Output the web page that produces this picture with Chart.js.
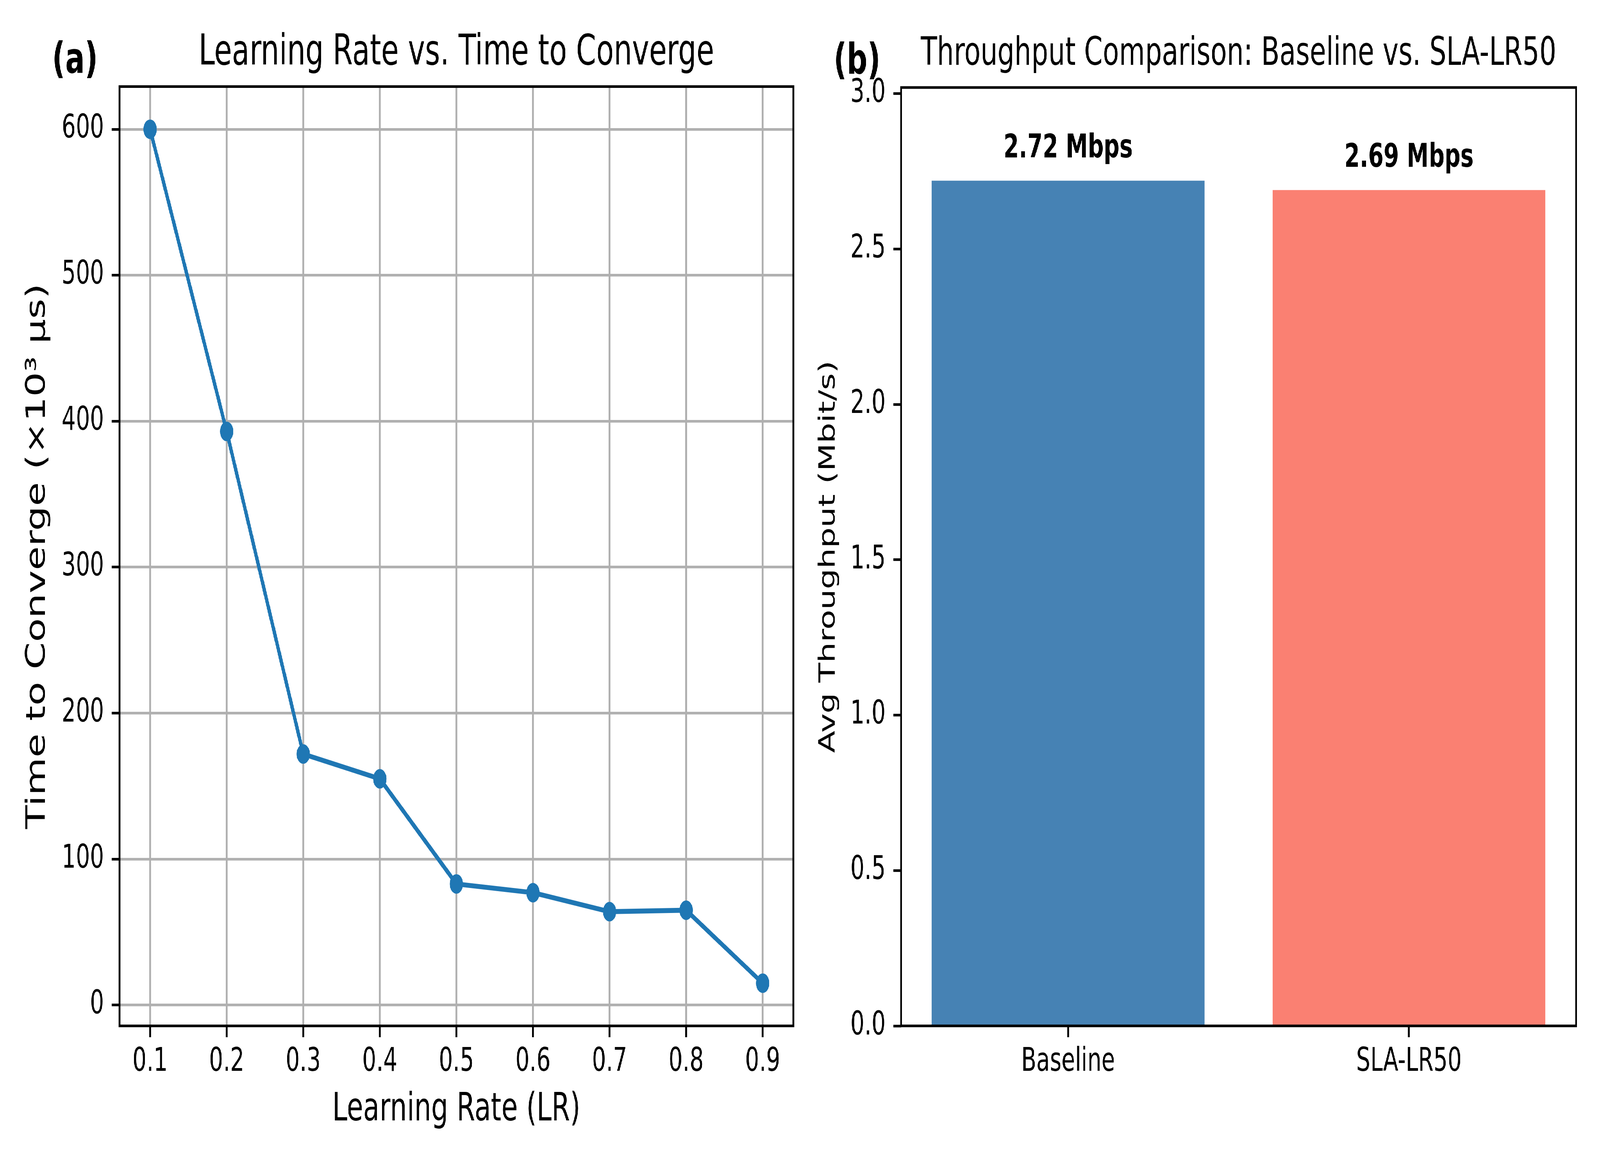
<!DOCTYPE html>
<html lang="en">
<head>
  <meta charset="UTF-8" />
  <title>Learning Rate / Throughput</title>
  <script src="https://cdn.jsdelivr.net/npm/chart.js@4.4.1/dist/chart.umd.min.js"></script>
  <style>
    html, body { margin: 0; background: #fff; overflow: hidden; }
    #fig { position: absolute; left: 0; top: 0; width: 6000px; height: 3000px; transform-origin: 0 0; }
    canvas { position: absolute; top: 0; }
  </style>
</head>
<body>

<div id="fig">
  <canvas id="lr" width="3000" height="3000" style="left:0"></canvas>
  <canvas id="tp" width="3000" height="3000" style="left:3000px"></canvas>
</div>

<script>
  // (a) learning rate vs time to converge
  const learningRates = [0.1, 0.2, 0.3, 0.4, 0.5, 0.6, 0.7, 0.8, 0.9];
  const convergeTimes = [600, 393, 172, 155, 83, 77, 64, 65, 15];
  const lrTicks = [0.1, 0.2, 0.3, 0.4, 0.5, 0.6, 0.7, 0.8, 0.9];
  const timeTicks = [0, 100, 200, 300, 400, 500, 600];

  // (b) throughput
  const methods = ['Baseline', 'SLA-LR50'];
  const throughput = [2.72, 2.69];
  const barColors = ['#4682b4', '#fa8072'];
  const tpTicks = [0, 0.5, 1.0, 1.5, 2.0, 2.5, 3.0];

  // the figure is laid out at 6000x3000, fit it to whatever window we get
  const fig = document.getElementById('fig');
  fig.style.transform = 'scale(' + (window.innerWidth / 6000) + ',' + (window.innerHeight / 3000) + ')';

  const FONT = 'DejaVu Sans';
  const LW = 6.7; // 0.8pt at 600 dpi

  // margins like matplotlib (5%)
  function padRange(arr) {
    const lo = Math.min(...arr), hi = Math.max(...arr);
    const m = (hi - lo) * 0.05;
    return [lo - m, hi + m];
  }

  // spines + panel letter
  const frame = {
    id: 'frame',
    afterDraw(chart, args, opts) {
      const { ctx, chartArea: a } = chart;
      ctx.save();
      ctx.strokeStyle = '#000';
      ctx.lineWidth = LW;
      ctx.strokeRect(a.left, a.top, a.right - a.left, a.bottom - a.top);
      ctx.fillStyle = '#000';
      ctx.font = 'bold 108px "' + FONT + '"';
      ctx.textAlign = 'left';
      ctx.textBaseline = 'alphabetic';
      const w = a.right - a.left, h = a.bottom - a.top;
      ctx.fillText(opts.label, a.left - 0.1 * w, a.top - 0.05 * h + 85);
      ctx.restore();
    }
  };

  // value labels over bars
  const barLabels = {
    id: 'barLabels',
    afterDatasetsDraw(chart) {
      const { ctx, scales } = chart;
      ctx.save();
      ctx.fillStyle = '#000';
      ctx.font = 'bold 83px "' + FONT + '"';
      ctx.textAlign = 'center';
      ctx.textBaseline = 'bottom';
      throughput.forEach((v, i) => {
        ctx.fillText(v.toFixed(2) + ' Mbps', scales.x.getPixelForValue(i), scales.y.getPixelForValue(v + 0.05));
      });
      ctx.restore();
    }
  };

  const gridOn = { color: '#b0b0b0', lineWidth: LW, tickColor: '#000', tickWidth: LW, tickLength: 29, drawTicks: true };
  const gridOff = { display: true, drawOnChartArea: false, tickColor: '#000', tickWidth: LW, tickLength: 29, drawTicks: true };
  const tickFont = { family: FONT, size: 83 };

  const [xMin, xMax] = padRange(learningRates);
  const [yMin, yMax] = padRange(convergeTimes);

  new Chart(document.getElementById('lr'), {
    type: 'line',
    data: {
      datasets: [{
        data: learningRates.map((x, i) => ({ x: x, y: convergeTimes[i] })),
        borderColor: '#1f77b4',
        backgroundColor: '#1f77b4',
        borderWidth: 12.5,
        pointRadius: 25,
        pointHoverRadius: 25,
        pointBorderWidth: 0,
        tension: 0
      }]
    },
    options: {
      responsive: false,
      devicePixelRatio: 1,
      animation: false,
      events: [],
      layout: { padding: { left: 0, right: 22, top: 0, bottom: 0 } },
      plugins: {
        legend: { display: false },
        tooltip: { enabled: false },
        title: {
          display: true, fullSize: false,
          text: 'Learning Rate vs. Time to Converge',
          color: '#000',
          font: { family: FONT, size: 108, weight: 'normal' },
          padding: { top: 72, bottom: 20 }
        },
        frame: { label: '(a)' }
      },
      scales: {
        x: {
          type: 'linear', min: xMin, max: xMax,
          afterBuildTicks: s => { s.ticks = lrTicks.map(v => ({ value: v })); },
          afterFit: s => { s.height = 374; },
          grid: gridOn,
          border: { display: false },
          ticks: { font: tickFont, color: '#000', padding: 15, maxRotation: 0, callback: v => v.toFixed(1) },
          title: { display: true, text: 'Learning Rate (LR)', color: '#000', font: { family: FONT, size: 100 }, padding: { top: 0, bottom: 98 } }
        },
        y: {
          type: 'linear', min: yMin, max: yMax,
          afterBuildTicks: s => { s.ticks = timeTicks.map(v => ({ value: v })); },
          afterFit: s => { s.width = 448; },
          grid: gridOn,
          border: { display: false },
          ticks: { font: tickFont, color: '#000', padding: 29, callback: v => String(v) },
          title: { display: true, text: 'Time to Converge (×10³ µs)', color: '#000', font: { family: FONT, size: 100 }, padding: { top: 82, bottom: 0 } }
        }
      }
    },
    plugins: [frame]
  });

  new Chart(document.getElementById('tp'), {
    type: 'bar',
    data: {
      datasets: [{
        data: methods.map((m, i) => ({ x: i, y: throughput[i] })),
        backgroundColor: barColors,
        borderWidth: 0,
        barPercentage: 1,
        categoryPercentage: 0.8
      }]
    },
    options: {
      responsive: false,
      devicePixelRatio: 1,
      animation: false,
      events: [],
      layout: { padding: { left: 0, right: 90, top: 0, bottom: 0 } },
      plugins: {
        legend: { display: false },
        tooltip: { enabled: false },
        title: {
          display: true, fullSize: false,
          text: 'Throughput Comparison: Baseline vs. SLA-LR50',
          color: '#000',
          font: { family: FONT, size: 100, weight: 'normal' },
          padding: { top: 80, bottom: 24 }
        },
        frame: { label: '(b)' }
      },
      scales: {
        x: {
          type: 'linear', min: -0.49, max: 1.49, offset: false,
          afterBuildTicks: s => { s.ticks = methods.map((m, i) => ({ value: i })); },
          afterFit: s => { s.height = 374; },
          grid: Object.assign({}, gridOff, { offset: false }),
          border: { display: false },
          ticks: { font: tickFont, color: '#000', padding: 15, maxRotation: 0, callback: v => methods[v] }
        },
        y: {
          type: 'linear', min: 0, max: 3.02,
          afterBuildTicks: s => { s.ticks = tpTicks.map(v => ({ value: v })); },
          afterFit: s => { s.width = 379; },
          grid: gridOff,
          border: { display: false },
          ticks: { font: tickFont, color: '#000', padding: 29, callback: v => v.toFixed(1) },
          title: { display: true, text: 'Avg Throughput (Mbit/s)', color: '#000', font: { family: FONT, size: 83 }, padding: { top: 59, bottom: 0 } }
        }
      }
    },
    plugins: [frame, barLabels]
  });
</script>

</body>
</html>
